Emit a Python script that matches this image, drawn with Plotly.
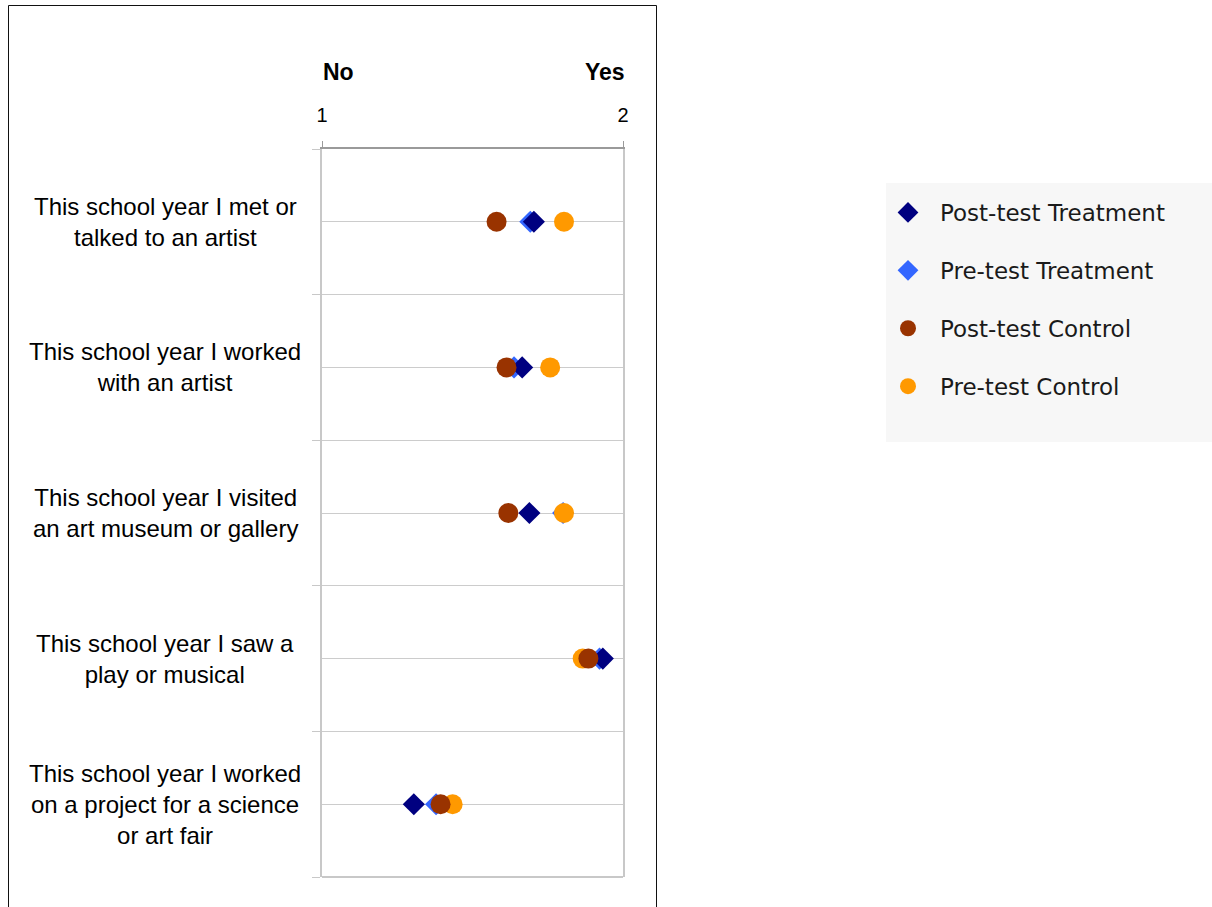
import plotly.graph_objects as go

# ---------------- data ----------------
categories = [
    "This school year I met or<br>talked to an artist",
    "This school year I worked<br>with an artist",
    "This school year I visited<br>an art museum or gallery",
    "This school year I saw a<br>play or musical",
    "This school year I worked<br>on a project for a science<br>or art fair",
]
post_treatment = [1.704, 1.665, 1.689, 1.933, 1.305]
pre_treatment = [1.692, 1.638, 1.801, 1.922, 1.379]
post_control = [1.580, 1.613, 1.619, 1.885, 1.394]
pre_control = [1.804, 1.758, 1.804, 1.866, 1.434]
scale_ticks = [1, 2]
scale_labels = ["No", "Yes"]

# ---------------- layout helpers ----------------
W, H = 1212, 907
OFF = 0  # body margin removed via post_script
PL, PR, PT, PB = 322 - OFF, 623 - OFF, 149 - OFF, 877 - OFF


def px_x(p):
    """page pixel x -> paper coordinate"""
    return (p - OFF - PL) / (PR - PL)


def px_y(p):
    """page pixel y -> paper coordinate"""
    return (PB - (p - OFF)) / (PB - PT)


ypos = list(range(len(categories)))
boundaries = [i - 0.5 for i in range(len(categories) + 1)]

series = [
    # (name, values, color, symbol, size, legendrank) in drawing order
    ("Pre-test Treatment", pre_treatment, "#3366FF", "diamond", 17, 2),
    ("Pre-test Control", pre_control, "#FF9900", "circle", 20, 4),
    ("Post-test Treatment", post_treatment, "#000080", "diamond", 17, 1),
    ("Post-test Control", post_control, "#993300", "circle", 20, 3),
]

fig = go.Figure()
for name, vals, color, symbol, size, rank in series:
    fig.add_trace(go.Scatter(
        x=vals, y=ypos, mode="markers", name=name,
        marker=dict(color=color, symbol=symbol, size=size, line=dict(width=0)),
        legendrank=rank, legendgroup=name, cliponaxis=False,
    ))

annotations = []
for i, cat in enumerate(categories):
    annotations.append(dict(
        x=px_x(165), xref="paper", y=i, yref="y", text=cat, showarrow=False,
        xanchor="center", yanchor="middle", align="center",
        font=dict(family="Liberation Sans, Arial", size=24, color="#000000"),
    ))
annotations.append(dict(
    x=scale_ticks[0], xref="x", y=px_y(72), yref="paper", text="<b>%s</b>" % scale_labels[0],
    showarrow=False, xanchor="left", yanchor="middle", xshift=-1,
    font=dict(family="Liberation Sans, Arial", size=23, color="#000000"),
))
annotations.append(dict(
    x=scale_ticks[1], xref="x", y=px_y(72), yref="paper", text="<b>%s</b>" % scale_labels[1],
    showarrow=False, xanchor="right", yanchor="middle", xshift=4,
    font=dict(family="Liberation Sans, Arial", size=23, color="#000000"),
))

shapes = [
    # outer chart frame
    dict(type="rect", xref="paper", yref="paper",
         x0=px_x(8.5), x1=px_x(656.5), y0=px_y(940), y1=px_y(5.5),
         line=dict(color="#111111", width=1), fillcolor="rgba(0,0,0,0)", layer="below"),
    # legend background
    dict(type="rect", xref="paper", yref="paper",
         x0=px_x(886), x1=px_x(1225), y0=px_y(442), y1=px_y(183),
         line=dict(width=0), fillcolor="#f7f7f7", layer="below"),
    # plot-area bottom border
    dict(type="line", xref="paper", yref="paper", x0=0, x1=1, y0=0, y1=0,
         line=dict(color="#c8c8c8", width=2)),
]

fig.update_layout(
    width=W, height=H,
    margin=dict(l=PL, r=W - PR, t=PT, b=H - PB, pad=0),
    paper_bgcolor="#ffffff", plot_bgcolor="#ffffff",
    showlegend=True,
    hovermode=False,
    legend=dict(
        x=px_x(876), y=px_y(191), xanchor="left", yanchor="top",
        bgcolor="rgba(0,0,0,0)", borderwidth=0,
        traceorder="grouped", tracegroupgap=25, itemwidth=54,
        font=dict(family="DejaVu Sans", size=23, color="#1a1a1a"),
    ),
    xaxis=dict(
        side="top", range=[1, 2], tickvals=scale_ticks, ticktext=[str(t) for t in scale_ticks],
        ticks="outside", ticklen=6, tickcolor="#9a9a9a", tickwidth=1,
        showline=True, linecolor="#9a9a9a", linewidth=2,
        showgrid=False, zeroline=False,
        tickfont=dict(family="Liberation Sans, Arial", size=20, color="#000000"),
        ticklabelstandoff=11,
    ),
    yaxis=dict(
        range=[boundaries[-1], boundaries[0]], tickvals=boundaries,
        showticklabels=False, ticks="outside", ticklen=8, tickcolor="#c8c8c8",
        showgrid=True, gridcolor="#cccccc", gridwidth=1,
        minor=dict(tickvals=ypos, showgrid=True, gridcolor="#cccccc", gridwidth=1, ticks=""),
        showline=True, linecolor="#c8c8c8", linewidth=2, mirror=True,
        zeroline=False,
    ),
    annotations=annotations,
    shapes=shapes,
)

fig.write_html(
    "out.html",
    config={"displayModeBar": False},
    post_script="document.body.style.margin='0';document.body.style.overflow='hidden';",
)
